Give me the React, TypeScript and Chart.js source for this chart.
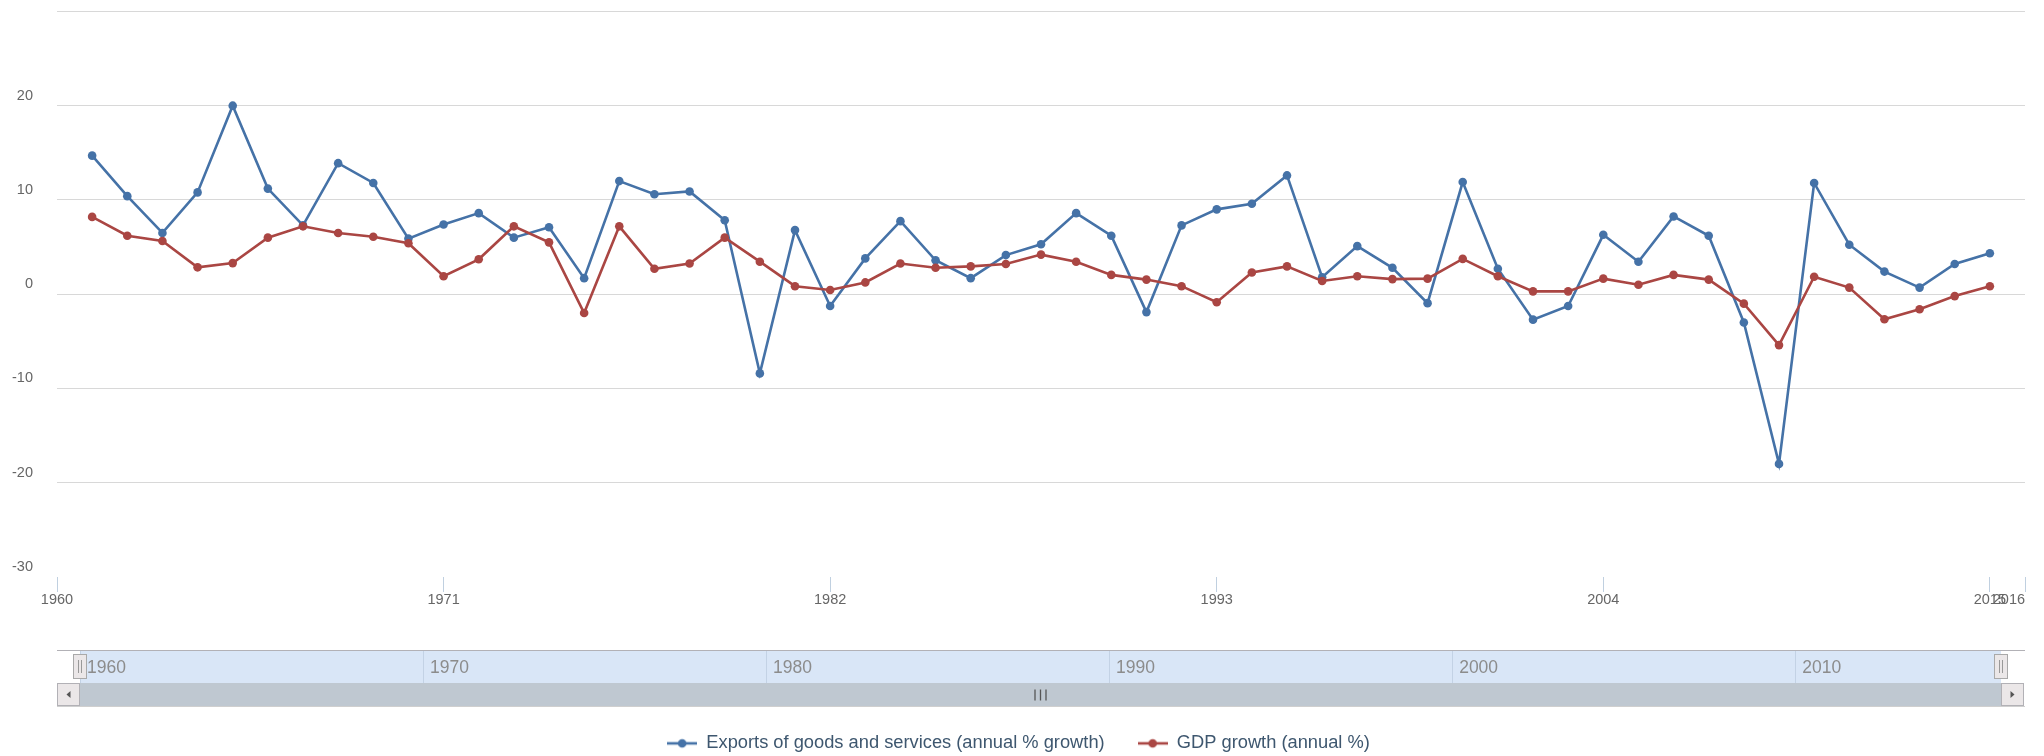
import React, { useEffect, useRef } from 'react';
import { Chart, registerables } from 'chart.js';

Chart.register(...registerables);

// ---------- data ----------
const years = [
  1961, 1962, 1963, 1964, 1965, 1966, 1967, 1968, 1969, 1970,
  1971, 1972, 1973, 1974, 1975, 1976, 1977, 1978, 1979, 1980,
  1981, 1982, 1983, 1984, 1985, 1986, 1987, 1988, 1989, 1990,
  1991, 1992, 1993, 1994, 1995, 1996, 1997, 1998, 1999, 2000,
  2001, 2002, 2003, 2004, 2005, 2006, 2007, 2008, 2009, 2010,
  2011, 2012, 2013, 2014, 2015,
];

const exportsGrowth = [
  14.7, 10.4, 6.5, 10.8, 20.0, 11.2, 7.3, 13.9, 11.8, 5.9,
  7.4, 8.6, 6.0, 7.1, 1.7, 12.0, 10.6, 10.9, 7.85, -8.4,
  6.8, -1.25, 3.8, 7.75, 3.6, 1.7, 4.15, 5.3, 8.6, 6.2,
  -1.9, 7.3, 9.0, 9.6, 12.6, 1.8, 5.1, 2.8, -0.95, 11.9,
  2.7, -2.7, -1.25, 6.3, 3.45, 8.25, 6.2, -3.0, -18.0, 11.8,
  5.25, 2.4, 0.7, 3.2, 4.35,
];

const gdpGrowth = [
  8.2, 6.2, 5.65, 2.85, 3.3, 6.0, 7.2, 6.5, 6.1, 5.4,
  1.9, 3.7, 7.2, 5.5, -2.0, 7.2, 2.7, 3.25, 6.0, 3.45,
  0.85, 0.45, 1.25, 3.25, 2.8, 2.95, 3.2, 4.2, 3.45, 2.05,
  1.55, 0.85, -0.85, 2.3, 2.95, 1.4, 1.9, 1.6, 1.65, 3.75,
  1.9, 0.3, 0.3, 1.65, 1.0, 2.05, 1.55, -1.0, -5.4, 1.85,
  0.7, -2.65, -1.6, -0.2, 0.85,
];

const seriesLabels = ['Exports of goods and services (annual % growth)', 'GDP growth (annual %)'];
const xTickYears = [1960, 1971, 1982, 1993, 2004, 2015, 2016];
const yTickValues = [-30, -20, -10, 0, 10, 20, 30];
const navTickYears = [1960, 1970, 1980, 1990, 2000, 2010];
const xMin = 1960;
const xMax = 2016;

// ---------- styles ----------
const FONT = '"Liberation Sans", Arial, Helvetica, sans-serif';
const BLUE = '#4572A7';
const RED = '#AA4643';
const W = 2044;
const H = 756;
const PLOT_BOTTOM = 577;
const PAD_BOTTOM = -6.5;
const PLOT_RIGHT_INSET = 19;

function makeSymbol(color: string): HTMLCanvasElement {
  const c = document.createElement('canvas');
  c.width = 30;
  c.height = 12;
  const g = c.getContext('2d')!;
  g.strokeStyle = color;
  g.lineWidth = 2.6;
  g.beginPath();
  g.moveTo(0, 6);
  g.lineTo(30, 6);
  g.stroke();
  g.fillStyle = color;
  g.beginPath();
  g.arc(15, 6, 4.3, 0, Math.PI * 2);
  g.fill();
  return c;
}

const navigatorDecor = {
  id: 'navigatorDecor',
  beforeDraw(chart: any) {
    const { ctx, chartArea: a } = chart;
    const btn = 23;
    ctx.save();
    // band
    ctx.fillStyle = '#D9E6F7';
    ctx.fillRect(a.left, a.top, a.right - a.left, a.bottom - a.top);
    // top border
    ctx.strokeStyle = '#B2B1B6';
    ctx.lineWidth = 1;
    ctx.beginPath();
    ctx.moveTo(a.left - btn, a.top - 0.5);
    ctx.lineTo(a.right + btn + 1, a.top - 0.5);
    ctx.stroke();
    // scrollbar
    const sTop = a.bottom;
    const sH = 23;
    ctx.fillStyle = '#BFC8D1';
    ctx.fillRect(a.left, sTop, a.right - a.left, sH);
    ctx.strokeStyle = '#CFCFCF';
    ctx.beginPath();
    ctx.moveTo(a.left - btn, sTop + sH + 0.5);
    ctx.lineTo(a.right + btn + 1, sTop + sH + 0.5);
    ctx.stroke();
    // buttons
    const drawBtn = (x: number, dir: number) => {
      ctx.fillStyle = '#EBE7E8';
      ctx.fillRect(x, sTop, btn, sH);
      ctx.strokeStyle = '#B2B1B6';
      ctx.strokeRect(x + 0.5, sTop + 0.5, btn - 1, sH - 1);
      ctx.fillStyle = '#555';
      const cx = x + btn / 2;
      const cy = sTop + sH / 2;
      ctx.beginPath();
      ctx.moveTo(cx - 2 * dir, cy);
      ctx.lineTo(cx + 2 * dir, cy - 3.5);
      ctx.lineTo(cx + 2 * dir, cy + 3.5);
      ctx.closePath();
      ctx.fill();
    };
    drawBtn(a.left - btn, 1);
    drawBtn(a.right, -1);
    // grip
    const gx = (a.left - btn + a.right + btn) / 2;
    ctx.strokeStyle = '#555';
    ctx.lineWidth = 1.3;
    for (const dx of [-5.5, 0, 5.5]) {
      ctx.beginPath();
      ctx.moveTo(gx + dx, sTop + 6.5);
      ctx.lineTo(gx + dx, sTop + 17.5);
      ctx.stroke();
    }
    ctx.restore();
  },
  afterDraw(chart: any) {
    const { ctx, chartArea: a } = chart;
    ctx.save();
    for (const x of [a.left, a.right]) {
      const hx = Math.round(x) - 7;
      const hy = a.top + 3;
      ctx.fillStyle = '#EBE7E8';
      ctx.fillRect(hx, hy, 14, 25);
      ctx.strokeStyle = '#A9A9A9';
      ctx.lineWidth = 1;
      ctx.strokeRect(hx + 0.5, hy + 0.5, 13, 24);
      ctx.strokeStyle = '#999';
      for (const dx of [5.5, 8.5]) {
        ctx.beginPath();
        ctx.moveTo(hx + dx, hy + 6);
        ctx.lineTo(hx + dx, hy + 19);
        ctx.stroke();
      }
    }
    ctx.restore();
  },
};

export default function App() {
  const mainRef = useRef<HTMLCanvasElement>(null);
  const navRef = useRef<HTMLCanvasElement>(null);

  useEffect(() => {
    const colors = [BLUE, RED];
    const series = [exportsGrowth, gdpGrowth];
    const main = new Chart(mainRef.current!, {
      type: 'line',
      data: {
        datasets: series.map((vals, i) => ({
          label: seriesLabels[i],
          data: years.map((yr, k) => ({ x: yr, y: vals[k] })),
          borderColor: colors[i],
          backgroundColor: colors[i],
          borderWidth: 2.6,
          pointRadius: 4.3,
          pointBorderWidth: 0,
          pointBackgroundColor: colors[i],
          tension: 0,
          order: i === 0 ? 2 : 1,
        })),
      },
      options: {
        responsive: false,
        animation: false,
        layout: { padding: { left: 0, right: 7, top: 11.4, bottom: PAD_BOTTOM } },
        plugins: {
          tooltip: { enabled: false },
          legend: {
            position: 'bottom',
            align: 'center',
            labels: {
              usePointStyle: true,
              pointStyleWidth: 30,
              boxHeight: 18.3,
              padding: 33,
              color: '#3E576F',
              font: { size: 18.3, family: FONT },
              generateLabels: (chart: any) =>
                chart.data.datasets.map((ds: any, i: number) => ({
                  text: ds.label,
                  fillStyle: ds.borderColor,
                  strokeStyle: ds.borderColor,
                  lineWidth: 0,
                  pointStyle: makeSymbol(ds.borderColor),
                  hidden: false,
                  datasetIndex: i,
                  fontColor: '#3E576F',
                })),
            },
          },
        },
        scales: {
          x: {
            type: 'linear',
            min: xMin,
            max: xMax,
            afterBuildTicks: (s: any) => {
              s.ticks = xTickYears.map((v) => ({ value: v }));
            },
            afterFit: (s: any) => {
              s.paddingLeft = 0;
              s.paddingRight = PLOT_RIGHT_INSET;
              const lh = s.chart.legend ? s.chart.legend.height : 0;
              s.height = H - PAD_BOTTOM - lh - PLOT_BOTTOM;
            },
            grid: { drawOnChartArea: false, drawTicks: true, tickLength: 15, color: '#C0D0E0', lineWidth: 1 },
            border: { display: false },
            ticks: {
              autoSkip: false,
              maxRotation: 0,
              minRotation: 0,
              padding: -0.5,
              color: '#666',
              font: { size: 14.5, family: FONT },
              callback: (v: any) => (v === xMax ? String(v) + '        ' : String(v)),
            },
          },
          y: {
            min: -30,
            max: 30,
            afterBuildTicks: (s: any) => {
              s.ticks = yTickValues.map((v) => ({ value: v }));
            },
            afterFit: (s: any) => {
              s.width = 57;
              s.paddingTop = 0;
              s.paddingBottom = 0;
            },
            grid: {
              drawTicks: false,
              lineWidth: 1,
              color: (c: any) => (c.tick && c.tick.value === -30 ? 'rgba(0,0,0,0)' : '#D8D8D8'),
            },
            border: { display: false },
            ticks: {
              padding: 24,
              labelOffset: -10,
              color: '#666',
              font: { size: 14.5, family: FONT },
              callback: (v: any) => (v === 30 ? '' : String(v)),
            },
          },
        },
      } as any,
    });

    const nav = new Chart(navRef.current!, {
      type: 'line',
      data: { datasets: [] },
      options: {
        responsive: false,
        animation: false,
        layout: { padding: { left: 80, right: 43, top: 11, bottom: 0 } },
        plugins: { legend: { display: false }, tooltip: { enabled: false } },
        scales: {
          x: {
            type: 'linear',
            min: xMin,
            max: xMax,
            afterBuildTicks: (s: any) => {
              s.ticks = navTickYears.map((v) => ({ value: v }));
            },
            afterFit: (s: any) => {
              s.paddingLeft = 0;
              s.paddingRight = 0;
              s.height = 32;
            },
            grid: { drawTicks: false, color: '#C3D2E5', lineWidth: 1 },
            border: { display: false },
            ticks: {
              autoSkip: false,
              maxRotation: 0,
              minRotation: 0,
              align: 'start',
              mirror: true,
              labelOffset: 7,
              padding: 4.2,
              color: '#8C8C8C',
              font: { size: 17.5, family: FONT },
              callback: (v: any) => String(v),
            },
          },
          y: { display: false, min: 0, max: 1 },
        },
      } as any,
      plugins: [navigatorDecor],
    });

    return () => {
      main.destroy();
      nav.destroy();
    };
  }, []);

  return (
    <div style={{ position: 'absolute', left: 0, top: 0, width: W, height: H, background: '#fff', overflow: 'hidden' }}>
      <canvas ref={mainRef} width={W} height={H} style={{ position: 'absolute', left: 0, top: 0, width: W, height: H }} />
      <canvas
        ref={navRef}
        width={W}
        height={75}
        style={{ position: 'absolute', left: 0, top: 640, width: W, height: 75, pointerEvents: 'none' }}
      />
    </div>
  );
}
